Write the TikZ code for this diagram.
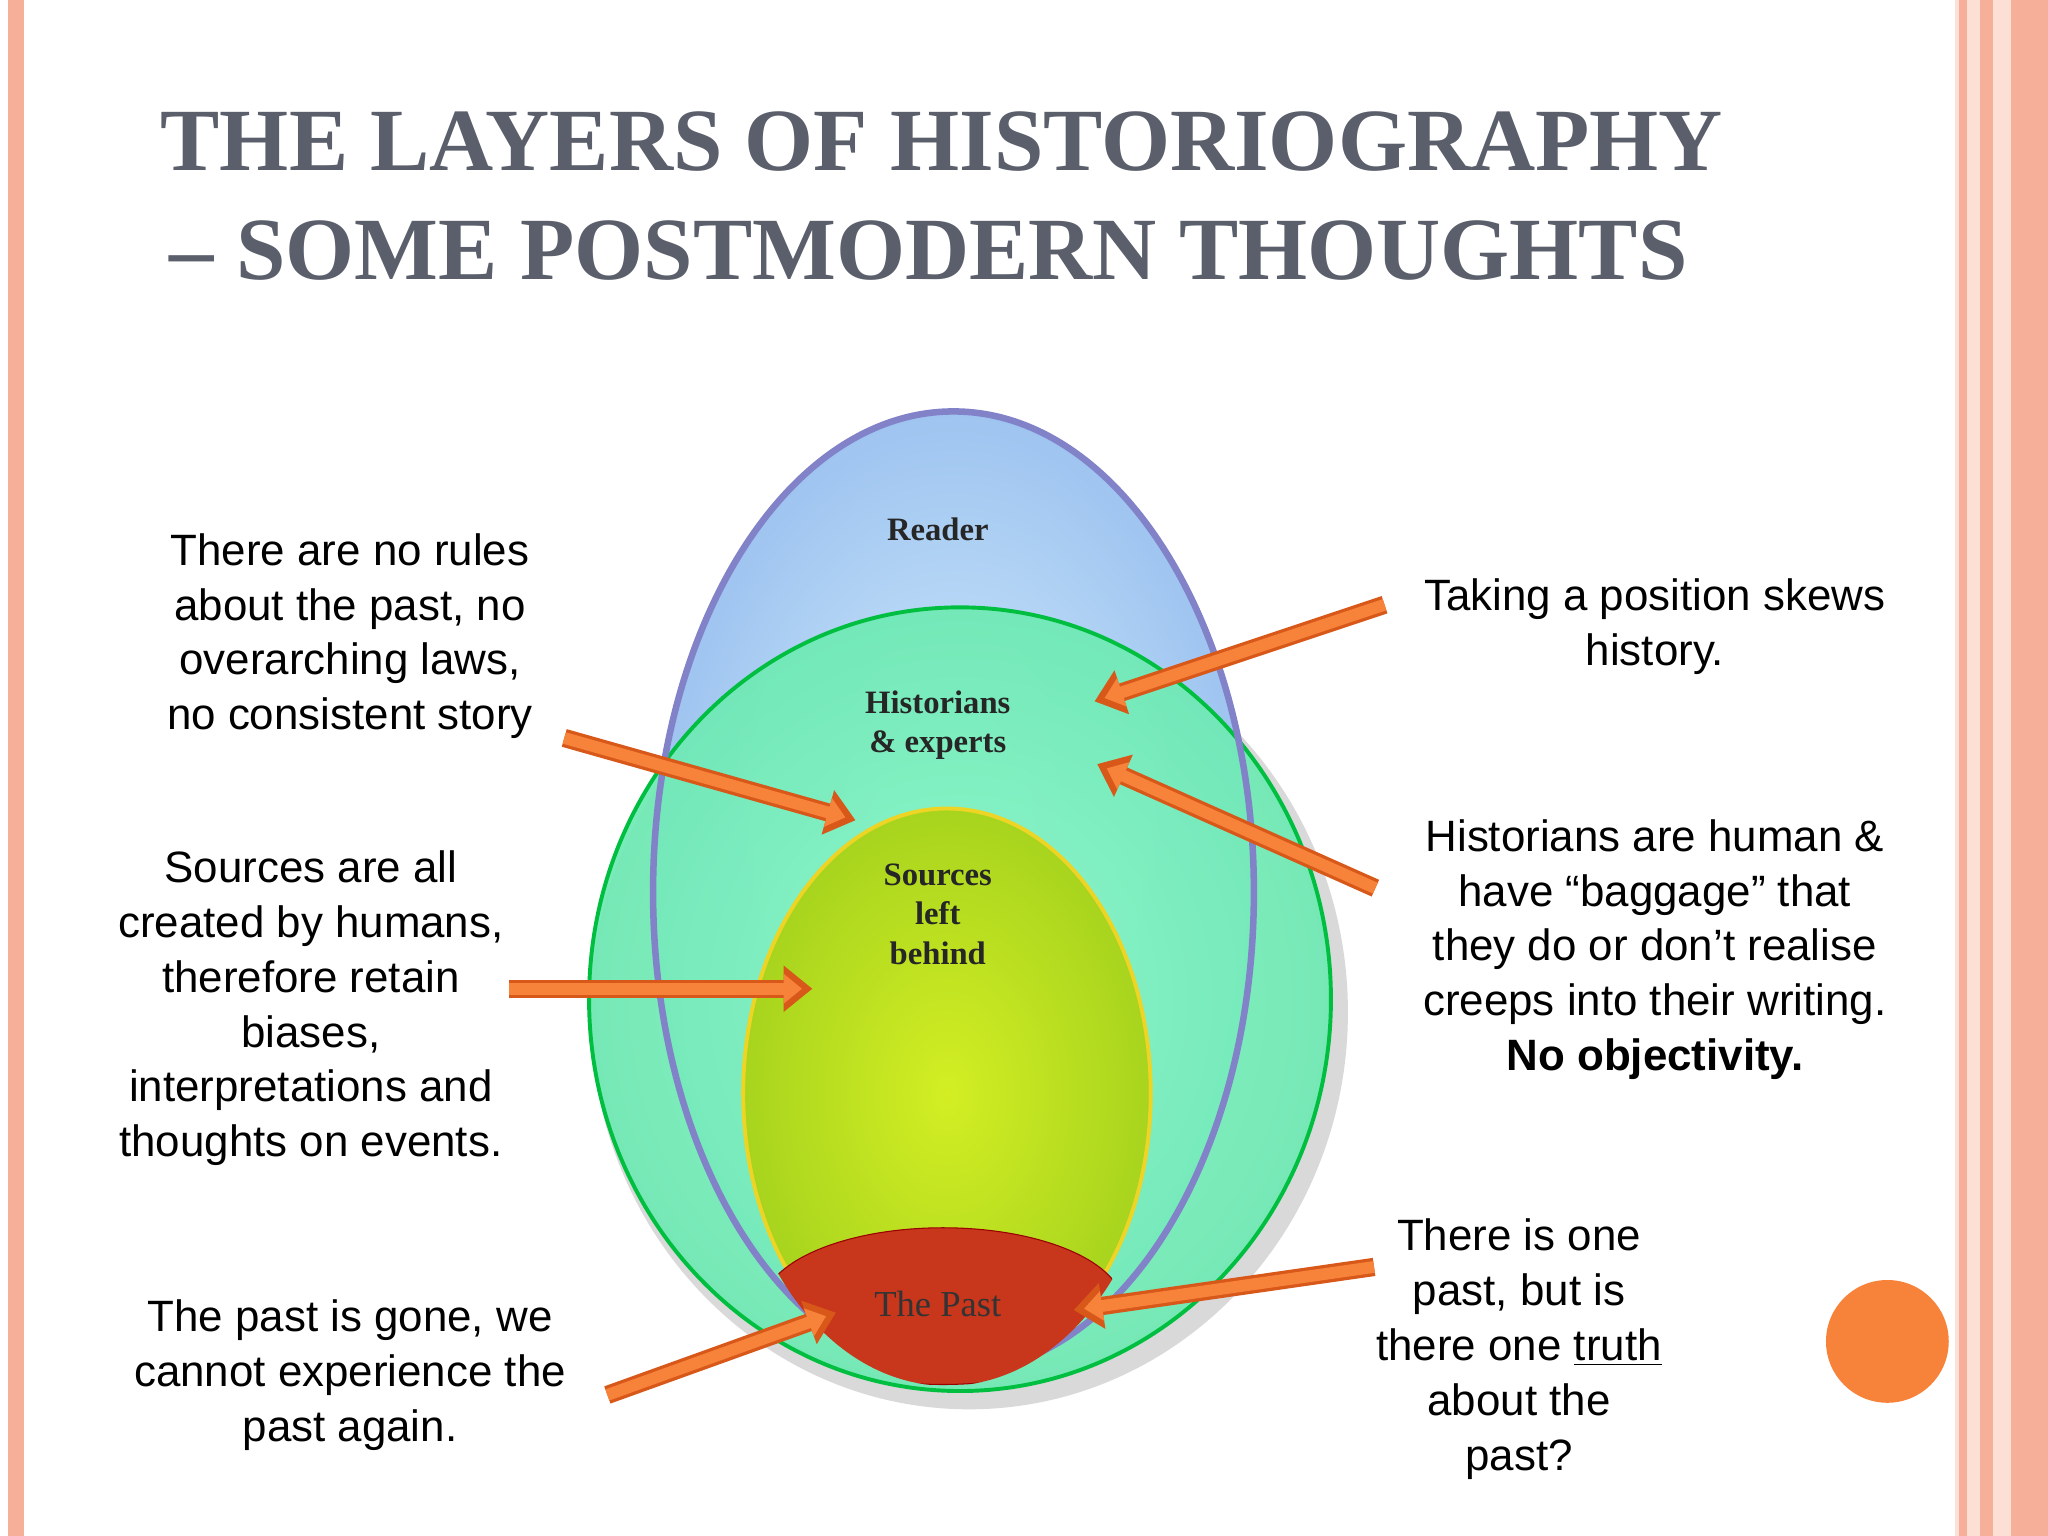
\documentclass[tikz,border=0pt]{standalone}
\usepackage{fontspec}
\setmainfont{Liberation Serif}
\newfontfamily\sans{Liberation Sans}
\usetikzlibrary{arrows.meta}
\definecolor{titlegray}{HTML}{5A5F6B}
\definecolor{stripe}{HTML}{F6B09A}
\definecolor{pale}{HTML}{FCE0D6}
\definecolor{arrowor}{HTML}{F7823A}
\definecolor{arrowdk}{HTML}{D8581A}
\definecolor{mint}{HTML}{6FEAB4}
\definecolor{mintin}{HTML}{8AF8C8}
\definecolor{lime}{HTML}{C8EA2C}
\definecolor{limeout}{HTML}{A8D41E}
\definecolor{skyin}{HTML}{D8F0FC}
\definecolor{skyout}{HTML}{9EC4F0}
\definecolor{pastred}{HTML}{C8361C}
\tikzset{
 lbl/.style={font=\sans\fontsize{16.8}{21}\selectfont, align=center, text=black},
 inner/.style={font=\bfseries\fontsize{12.5}{15}\selectfont, align=center, text=black!85},
 arr/.style={line width=7pt, draw=arrowdk, -{Triangle[length=11pt,width=17pt]}},
 arrin/.style={line width=4.5pt, draw=arrowor, shorten >=4pt, -{Triangle[length=7pt,width=11pt]}}
}
\begin{document}
\begin{tikzpicture}[x=0.5pt,y=-0.5pt]
\useasboundingbox (0,0) rectangle (1568,1176);
\fill[white] (0,0) rectangle (1568,1176);
\fill[stripe] (6,0) rectangle (18,1176);
\fill[pale] (1497,0) rectangle (1568,1176);
\fill[stripe] (1500,0) rectangle (1506,1176);
\fill[stripe] (1516,0) rectangle (1526,1176);
\fill[stripe] (1540,0) rectangle (1568,1176);
\node[anchor=west, text=titlegray, font=\bfseries\fontsize{34}{40}\selectfont] (t1) at (116,108) {THE LAYERS OF HISTORIOGRAPHY};
\node[anchor=west, text=titlegray, font=\bfseries\fontsize{34}{40}\selectfont] (t2) at (123,192) {– SOME POSTMODERN THOUGHTS};
\fill[gray!30] (742,775) ellipse [x radius=145pt, y radius=152pt];
\shade[inner color=skyin, outer color=skyout] (730,683) ellipse [x radius=115pt, y radius=184pt];
\shade[inner color=mintin, outer color=mint, opacity=0.93] (735,765) ellipse [x radius=142pt, y radius=150pt];
\draw[teal!50!green, line width=1.5pt] (735,765) ellipse [x radius=142pt, y radius=150pt];
\draw[blue!40!gray!70, line width=2.5pt] (730,683) ellipse [x radius=115pt, y radius=184pt];
\shade[inner color=lime!80!yellow, outer color=limeout] (725,837) ellipse [x radius=78pt, y radius=109pt];
\draw[yellow!70!brown, line width=1.5pt] (725,837) ellipse [x radius=78pt, y radius=109pt];
\begin{scope}
\clip (725,837) ellipse [x radius=82pt, y radius=112pt];
\fill[pastred, draw=red!60!black] (722,1000) ellipse [x radius=69pt, y radius=30pt];
\end{scope}
\node[inner] (reader) at (718,405) {Reader};
\node[inner] (hist) at (718,555) {Historians\\\& experts};
\node[inner] (src) at (718,700) {Sources\\left\\behind};
\node[inner, font=\fontsize{14}{16}\selectfont, text=black!80] (past) at (718,998) {The Past};
\node[lbl] (l1) at (268,487) {There are no rules\\about the past, no\\overarching laws,\\no consistent story};
\node[lbl] (l2) at (238,772) {Sources are all\\created by humans,\\therefore retain\\biases,\\interpretations and\\thoughts on events.};
\node[lbl] (l3) at (268,1053) {The past is gone, we\\cannot experience the\\past again.};
\node[lbl] (r1) at (1267,480) {Taking a position skews\\history.};
\node[lbl] (r2) at (1267,727) {Historians are human \&\\have “baggage” that\\they do or don’t realise\\creeps into their writing.\\\textbf{No objectivity.}};
\node[lbl] (r3) at (1163,1033) {There is one\\past, but is\\there one \underline{truth}\\about the\\past?};
\fill[arrowor] (1445,1027) circle (23.5pt);
\coordinate (a1) at (432,565); \coordinate (b1) at (655,628);
\coordinate (a2) at (390,757); \coordinate (b2) at (622,757);
\coordinate (a3) at (465,1068); \coordinate (b3) at (640,1005);
\coordinate (a4) at (1060,463); \coordinate (b4) at (838,537);
\coordinate (a5) at (1053,680); \coordinate (b5) at (840,585);
\coordinate (a6) at (1052,970); \coordinate (b6) at (822,1003);
\foreach \i in {1,...,6}{
 \draw[arr] (a\i) -- (b\i);
 \draw[arrin] (a\i) -- (b\i);
}
\end{tikzpicture}
\end{document}
